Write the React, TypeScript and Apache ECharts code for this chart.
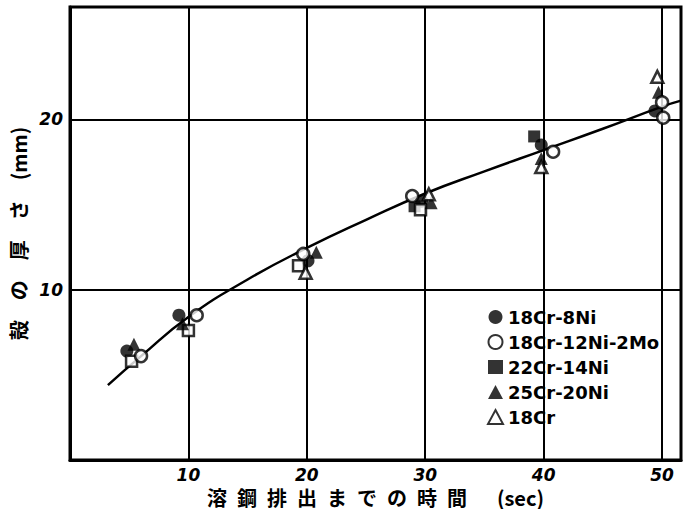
import React, { useEffect, useRef } from "react";
import * as echarts from "echarts";

// x tick labels (sec) and y tick labels (mm)
const xTicks = [10, 20, 30, 40, 50];
const yTicks = [10, 20];

// fitted curve: [time (sec), thickness (mm)]
const fitCurve = [
  [3.2, 4.4], [6, 6.1], [10, 8.4], [15, 10.6], [20, 12.45], [25, 14.1],
  [30, 15.65], [35, 16.95], [40, 18.2], [45, 19.45], [50, 20.75], [51.6, 21.1],
];

// data points per steel grade
const s18Cr8Ni = [[4.8, 6.4], [9.2, 8.5], [20.1, 11.7], [29.7, 15.2], [39.8, 18.5], [49.4, 20.5]];
const s18Cr12Ni2Mo = [[6.0, 6.1], [10.7, 8.5], [19.7, 12.1], [28.9, 15.5], [40.8, 18.1], [50.0, 21.0], [50.1, 20.1]];
const s22Cr14Ni = [[5.2, 5.8], [10.0, 7.6], [19.3, 11.4], [29.1, 14.9], [29.6, 14.7], [39.2, 19.0]];
const s22Cr14NiHollow = [true, true, true, false, true, false];
const s25Cr20Ni = [[5.4, 6.8], [9.5, 8.0], [20.8, 12.2], [30.5, 15.1], [39.8, 17.7], [49.7, 21.6]];
const s18Cr = [[19.9, 11.0], [30.3, 15.6], [39.8, 17.2], [49.6, 22.5]];

const seriesNames = ["18Cr-8Ni", "18Cr-12Ni-2Mo", "22Cr-14Ni", "25Cr-20Ni", "18Cr"];

const xName = "溶\u2002鋼\u2002排\u2002出\u2002ま\u2002で\u2002の\u2002時\u2002間\u2003\u2002(sec)";
const yName = "殻\u2003の\u2003厚\u2003さ\u2003(mm)";

export default function App() {
  const ref = useRef<HTMLDivElement>(null);
  useEffect(() => {
    if (!ref.current) return;
    const chart = echarts.init(ref.current, undefined, { renderer: "svg" });
    const tickFont = {
      color: "#000",
      fontSize: 17,
      fontStyle: "italic" as const,
      fontWeight: "bold" as const,
      fontFamily: "DejaVu Sans",
    };
    const filled = { color: "#000" };
    const hollow = { color: "#fff", borderColor: "#000", borderWidth: 2.5 };
    chart.setOption({
      animation: false,
      backgroundColor: "#fff",
      grid: {
        left: 70,
        top: 7,
        right: 7,
        bottom: 49,
        containLabel: false,
        outerBoundsMode: "none",
        show: true,
        borderColor: "#000",
        borderWidth: 3,
        backgroundColor: "transparent",
      },
      legend: {
        orient: "vertical",
        left: 482,
        top: 303,
        itemWidth: 15,
        itemHeight: 14,
        itemGap: 7,
        textStyle: {
          color: "#000",
          fontSize: 18,
          lineHeight: 18,
          fontWeight: "bold",
          fontFamily: "DejaVu Sans",
        },
        data: seriesNames,
      },
      xAxis: {
        type: "value",
        min: 0,
        max: 51.6,
        interval: 10,
        name: xName,
        nameLocation: "middle",
        nameGap: 21,
        nameTextStyle: {
          color: "#000",
          fontSize: 20,
          fontWeight: "bold",
          fontFamily: "Noto Sans CJK JP",
          verticalAlign: "middle",
          lineHeight: 20,
        },
        axisLine: { show: true, lineStyle: { color: "#000", width: 3 } },
        axisTick: { show: false },
        axisLabel: {
          ...tickFont,
          margin: 6,
          formatter: (v: number) => (xTicks.includes(v) ? String(v) : ""),
        },
        splitLine: { show: true, lineStyle: { color: "#000", width: 2 } },
      },
      yAxis: {
        type: "value",
        min: 0,
        max: 26.6,
        interval: 10,
        name: yName,
        nameLocation: "middle",
        nameRotate: 90,
        nameGap: 38,
        nameTextStyle: {
          color: "#000",
          fontSize: 20,
          fontWeight: "bold",
          fontFamily: "Noto Sans CJK JP",
        },
        axisLine: { show: true, lineStyle: { color: "#000", width: 3 } },
        axisTick: { show: false },
        axisLabel: {
          ...tickFont,
          margin: 7,
          formatter: (v: number) => (yTicks.includes(v) ? String(v) : ""),
        },
        splitLine: { show: true, lineStyle: { color: "#000", width: 2 } },
      },
      series: [
        {
          name: "fit",
          type: "line",
          data: fitCurve,
          smooth: true,
          showSymbol: false,
          silent: true,
          lineStyle: { color: "#000", width: 2.5 },
          z: 1,
        },
        {
          name: seriesNames[0],
          type: "scatter",
          symbol: "circle",
          symbolSize: 13,
          itemStyle: filled,
          data: s18Cr8Ni,
          z: 3,
        },
        {
          name: seriesNames[1],
          type: "scatter",
          symbol: "circle",
          symbolSize: 12,
          itemStyle: hollow,
          data: s18Cr12Ni2Mo,
          z: 4,
        },
        {
          name: seriesNames[2],
          type: "scatter",
          symbol: "rect",
          symbolSize: 12,
          itemStyle: filled,
          data: s22Cr14Ni.map((p, i) =>
            s22Cr14NiHollow[i] ? { value: p, itemStyle: hollow, symbolSize: 11 } : { value: p }
          ),
          z: 3,
        },
        {
          name: seriesNames[3],
          type: "scatter",
          symbol: "triangle",
          symbolSize: 13,
          itemStyle: filled,
          data: s25Cr20Ni,
          z: 3,
        },
        {
          name: seriesNames[4],
          type: "scatter",
          symbol: "triangle",
          symbolSize: 12,
          itemStyle: hollow,
          data: s18Cr,
          z: 4,
        },
      ],
    });
    return () => chart.dispose();
  }, []);
  return (
    <div
      ref={ref}
      style={{ position: "absolute", left: 0, top: 0, width: 688, height: 509, background: "#fff" }}
    />
  );
}
